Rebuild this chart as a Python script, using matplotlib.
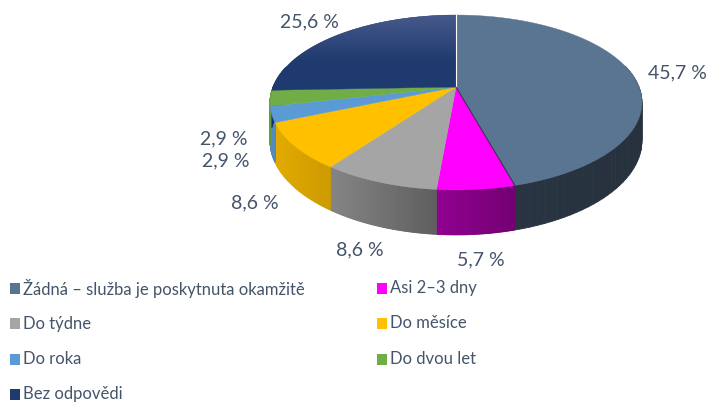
import numpy as np
import matplotlib
matplotlib.use("Agg")
import matplotlib.pyplot as plt
from matplotlib.colors import to_rgb, LinearSegmentedColormap

# ── Data ──────────────────────────────────────────────────────────────────────
categories = [
    "Žádná – služba je poskytnuta okamžitě",
    "Asi 2–3 dny",
    "Do týdne",
    "Do měsíce",
    "Do roka",
    "Do dvou let",
    "Bez odpovědi",
]
shares = [45.7, 5.7, 8.6, 8.6, 2.9, 2.9, 25.6]
value_labels = ["45,7 %", "5,7 %", "8,6 %", "8,6 %", "2,9 %", "2,9 %", "25,6 %"]
colors = ["#5A7591", "#FF00FF", "#A5A5A5", "#FFC000", "#5B9BD5", "#70AD47", "#1F3A6F"]

TEXT_COLOR = "#44546A"
FONT = "Lato"

# ── Pie geometry (pixel space, perspective-ish ellipse) ──────────────────────
CX, CY = 456, 87        # projected centre of the pie
A, B = 183, 84.7        # half axes
K = 0.177               # perspective strength
DEPTH = 37              # rim height
LABEL_R = 1.25


def proj(theta, r=1.0, drop=0.0):
    """theta in radians, clockwise from 12 o'clock."""
    u, v = np.sin(theta), np.cos(theta)
    s = 1.0 / (1.0 + K * v)
    return CX + A * r * u * s, CY - B * r * v * s + drop * s


def shade(x):
    # side walls get darker towards the right
    return np.interp(x, [270, 330, 440, 515, 643], [0.9, 0.8, 0.56, 0.45, 0.42])


fig = plt.figure(figsize=(7.11, 4.03), dpi=100)
ax = fig.add_axes([0, 0, 1, 1])
ax.set_xlim(0, 711)
ax.set_ylim(403, 0)
ax.axis("off")

fracs = np.array(shares) / sum(shares)
bounds = np.concatenate([[0], np.cumsum(fracs)]) * 2 * np.pi

# side walls first
for i, col in enumerate(colors):
    base = np.array(to_rgb(col))
    ts = np.linspace(bounds[i], bounds[i + 1], 80)
    for a, b in zip(ts[:-1], ts[1:]):
        if np.cos((a + b) / 2) > 0.25:
            continue
        xa, ya = proj(a)
        xb, yb = proj(b)
        xa2, ya2 = proj(a, drop=DEPTH)
        xb2, yb2 = proj(b, drop=DEPTH)
        c = np.clip(base * shade((xa + xb) / 2), 0, 1)
        ax.fill([xa, xb, xb2, xa2], [ya, yb, yb2, ya2], color=c, lw=0.6, ec=c)

# top faces
for i, col in enumerate(colors):
    ts = np.linspace(bounds[i], bounds[i + 1], 200)
    xs, ys = proj(ts)
    poly = ax.fill(np.r_[CX, xs], np.r_[CY, ys], color=col, lw=0.3, ec=col)[0]
    if i == len(colors) - 1:
        # the navy slice is lighter towards the back rim
        cmap = LinearSegmentedColormap.from_list("navy", ["#46598A", col])
        grad = np.linspace(0, 1, 64)[:, None]
        im = ax.imshow(grad, cmap=cmap, aspect="auto", interpolation="bilinear",
                       extent=(xs.min(), CX, CY - 25, ys.min()), zorder=poly.get_zorder())
        im.set_clip_path(poly)
ax.plot(*proj(np.array([0.0, 0.0]), r=np.array([0.0, 1.0])), color="white", lw=0.8)
ax.plot(*proj(np.array([bounds[1], bounds[1]]), r=np.array([0.0, 1.0])), color="#2A3440", lw=0.7)
ax.set_xlim(0, 711)
ax.set_ylim(403, 0)

# value labels
for i, lab in enumerate(value_labels):
    mid = (bounds[i] + bounds[i + 1]) / 2
    drop = DEPTH if np.cos(mid) < 0 else 0
    x, y = proj(mid, r=LABEL_R, drop=drop)
    ax.text(x, y, lab, ha="center", va="center", fontsize=14,
            color=TEXT_COLOR, family=FONT)

# ── Legend (two columns, row-wise) ───────────────────────────────────────────
for i, (name, col) in enumerate(zip(categories, colors)):
    row, c = divmod(i, 2)
    x0 = [10, 377][c]
    y0 = 288 + 35.5 * row
    ax.add_patch(plt.Rectangle((x0, y0 - 5.5), 10, 11, color=col, lw=0))
    ax.text(x0 + 13, y0, name, ha="left", va="center", fontsize=12,
            color=TEXT_COLOR, family=FONT)

fig.savefig("out.png", dpi=100)
